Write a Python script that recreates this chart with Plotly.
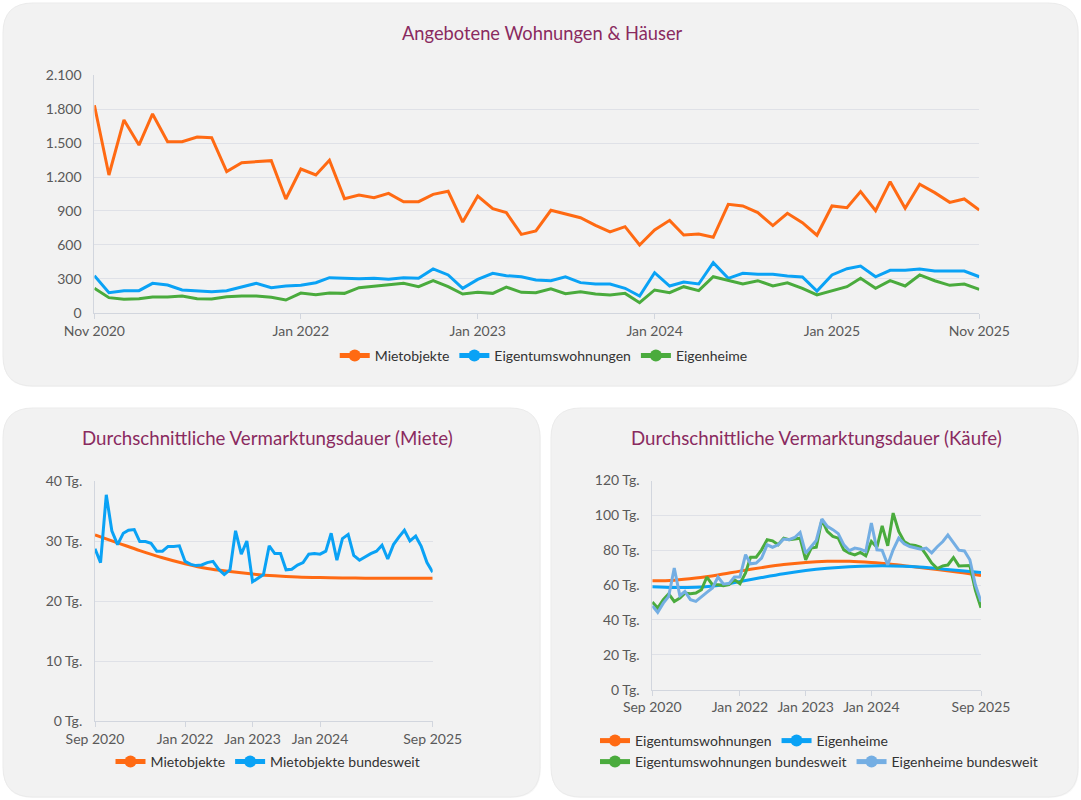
import plotly.graph_objects as go
import pandas as pd

W, H = 1081, 800

# ---------------- data ----------------
top_dates = pd.date_range("2020-11-01", periods=61, freq="MS")
mietobjekte = [1835, 1218, 1705, 1483, 1758, 1513, 1513, 1554, 1548, 1248,
               1327, 1339, 1345, 1006, 1271, 1218, 1348, 1009, 1041, 1018,
               1056, 982, 982, 1047, 1074, 802, 1032, 920, 885, 693,
               723, 906, 873, 840, 773, 714, 761, 599, 732, 817,
               687, 696, 667, 959, 944, 885, 770, 879, 796, 685,
               944, 929, 1071, 902, 1159, 923, 1136, 1062, 976, 1006, 908]
eigentumswohnungen = [327, 177, 195, 195, 260, 245, 201, 195, 186, 195,
                      230, 260, 221, 236, 242, 265, 310, 304, 301, 304,
                      295, 310, 304, 387, 334, 216, 295, 348, 327, 318,
                      289, 283, 318, 266, 254, 254, 216, 148, 354, 236,
                      272, 254, 442, 304, 348, 340, 340, 325, 316, 192,
                      334, 389, 413, 318, 375, 375, 387, 369, 369, 369, 318]
eigenheime = [216, 133, 118, 124, 139, 139, 148, 124, 121, 142,
              148, 148, 136, 112, 174, 159, 174, 171, 221, 236,
              245, 260, 230, 283, 230, 165, 180, 171, 227, 180,
              177, 212, 168, 186, 165, 157, 171, 88, 201, 177,
              230, 195, 318, 283, 254, 283, 236, 265, 216, 157,
              192, 230, 304, 216, 283, 236, 334, 283, 242, 254, 207]
top_tickvals = ["2020-11-01", "2022-01-01", "2023-01-01", "2024-01-01", "2025-01-01", "2025-11-01"]
top_ticktext = ["Nov 2020", "Jan 2022", "Jan 2023", "Jan 2024", "Jan 2025", "Nov 2025"]

bottom_dates = pd.date_range("2020-09-01", periods=61, freq="MS")
miete_bund = [28.7, 26.4, 37.7, 31.7, 29.4, 31.3, 31.8, 31.9, 29.9, 29.9,
              29.6, 28.3, 28.3, 29.1, 29.1, 29.2, 26.6, 26.1, 25.9, 26.0,
              26.4, 26.6, 25.3, 24.4, 25.2, 31.7, 27.8, 30.0, 23.2, 23.9,
              24.4, 29.2, 27.9, 27.9, 25.2, 25.3, 26.0, 26.4, 27.8, 27.9,
              27.8, 28.3, 31.3, 26.8, 30.4, 31.1, 27.6, 26.8, 27.4, 27.9,
              28.3, 29.3, 27.0, 29.4, 30.6, 31.8, 30.0, 30.8, 29.1, 26.4, 24.8]
trend_dates = ["2020-09-01", "2021-01-01", "2021-05-01", "2021-09-01", "2022-01-01",
               "2022-05-01", "2022-09-01", "2023-01-01", "2023-05-01", "2023-09-01",
               "2024-01-01", "2024-05-01", "2024-09-01", "2025-01-01", "2025-05-01",
               "2025-09-01"]
miete_trend = [31.0, 29.7, 28.4, 27.2, 26.2, 25.4, 24.9, 24.5, 24.2, 24.0,
               23.9, 23.85, 23.8, 23.8, 23.8, 23.8]
etw_trend = [62.4, 62.8, 64.0, 65.8, 68.0, 70.0, 71.8, 73.0, 73.6, 73.6,
             72.9, 71.8, 70.4, 68.9, 67.3, 65.5]
eh_trend = [59.0, 58.6, 58.8, 59.8, 62.0, 64.3, 66.5, 68.3, 69.6, 70.5,
            71.0, 71.0, 70.5, 69.5, 68.3, 67.2]
etw_bund = [50.2, 46.8, 51.6, 55.0, 50.6, 52.5, 55.4, 55.0, 55.4, 57.3,
            64.6, 60.2, 60.2, 59.6, 60.2, 63.1, 60.8, 66.9, 76.0, 76.0,
            80.2, 86.0, 85.4, 83.1, 86.9, 86.0, 86.4, 86.9, 74.5, 81.2,
            81.7, 97.5, 90.8, 87.9, 86.9, 80.2, 78.3, 77.3, 78.7, 76.8,
            85.0, 81.7, 94.0, 82.5, 101.3, 90.8, 85.0, 83.1, 82.7, 81.7,
            77.3, 72.6, 69.5, 71.0, 71.5, 75.8, 71.0, 71.2, 71.2, 57.0, 47.0]
eh_bund = [48.1, 44.3, 49.6, 53.5, 69.8, 53.9, 56.3, 51.6, 50.6, 53.5,
           55.8, 58.3, 64.6, 60.6, 60.8, 64.6, 64.6, 77.4, 72.2, 72.6,
           75.5, 83.1, 81.7, 83.1, 86.4, 86.0, 87.3, 90.2, 78.3, 82.1,
           85.6, 97.9, 93.7, 91.8, 89.5, 83.1, 79.7, 81.2, 80.6, 79.3,
           95.6, 80.2, 79.9, 71.6, 80.2, 86.9, 83.7, 82.1, 81.2, 80.6,
           81.2, 78.5, 82.0, 85.0, 88.7, 84.5, 80.0, 79.6, 74.5, 60.0, 50.5]
bottom_tickvals = ["2020-09-01", "2022-01-01", "2023-01-01", "2024-01-01", "2025-09-01"]
bottom_ticktext = ["Sep 2020", "Jan 2022", "Jan 2023", "Jan 2024", "Sep 2025"]

# ---------------- style ----------------
ORANGE = "#ff6a13"
BLUE = "#0aa2f5"
GREEN = "#4aab3d"
LBLUE = "#74aee3"
TITLE_C = "#8a2a5f"
TICK_C = "#595959"
GRID_C = "#dfe1e7"
LINE_C = "#d2d6de"
FONT = "Lato, 'Open Sans', sans-serif"


def px_x(x):
    return x / W


def px_y(y):
    return 1 - y / H


fig = go.Figure()


def add_line(x, y, name, color, ax, legend, spline=False):
    fig.add_trace(go.Scatter(
        x=x, y=y, name=name, mode="lines+markers",
        line=dict(color=color, width=3, shape="spline" if spline else "linear"),
        marker=dict(size=0.01, color=color),
        xaxis="x" + ax, yaxis="y" + ax, legend=legend, hoverinfo="skip"))


add_line(top_dates, mietobjekte, "Mietobjekte", ORANGE, "", "legend")
add_line(top_dates, eigentumswohnungen, "Eigentumswohnungen", BLUE, "", "legend")
add_line(top_dates, eigenheime, "Eigenheime", GREEN, "", "legend")

add_line(trend_dates, miete_trend, "Mietobjekte", ORANGE, "2", "legend2", spline=True)
add_line(bottom_dates, miete_bund, "Mietobjekte bundesweit", BLUE, "2", "legend2")

add_line(trend_dates, etw_trend, "Eigentumswohnungen", ORANGE, "3", "legend3", spline=True)
add_line(trend_dates, eh_trend, "Eigenheime", BLUE, "3", "legend3", spline=True)
add_line(bottom_dates, etw_bund, "Eigentumswohnungen bundesweit", GREEN, "3", "legend4")
add_line(bottom_dates, eh_bund, "Eigenheime bundesweit", LBLUE, "3", "legend4")


def rrect(x0, y0, x1, y1, r):
    X, Y = px_x, px_y
    return (f"M {X(x0+r)},{Y(y0)} L {X(x1-r)},{Y(y0)} Q {X(x1)},{Y(y0)} {X(x1)},{Y(y0+r)} "
            f"L {X(x1)},{Y(y1-r)} Q {X(x1)},{Y(y1)} {X(x1-r)},{Y(y1)} "
            f"L {X(x0+r)},{Y(y1)} Q {X(x0)},{Y(y1)} {X(x0)},{Y(y1-r)} "
            f"L {X(x0)},{Y(y0+r)} Q {X(x0)},{Y(y0)} {X(x0+r)},{Y(y0)} Z")


boxes = [(3, 3, 1078, 386), (3, 408, 540, 797), (551, 408, 1078, 797)]
shapes = []
for (a, b, c, d) in boxes:
    shapes.append(dict(type="path", xref="paper", yref="paper", path=rrect(a, b + 1, c + 1, d + 1, 30),
                       fillcolor="rgba(0,0,0,0.035)", line=dict(width=0), layer="below"))
    shapes.append(dict(type="path", xref="paper", yref="paper", path=rrect(a, b, c, d, 30),
                       fillcolor="#f2f2f2", line=dict(width=1, color="#ebebeb"), layer="below"))


def xaxis_cfg(x0, x1, anchor, rng, tv, tt):
    return dict(domain=[px_x(x0), px_x(x1)], anchor=anchor, type="date", range=rng,
                tickvals=tv, ticktext=tt, showgrid=False, showline=True, linecolor=LINE_C,
                linewidth=1, ticks="outside", ticklen=5, tickcolor=LINE_C, automargin=False,
                tickfont=dict(family=FONT, size=14, color=TICK_C), zeroline=False, fixedrange=True)


def yaxis_cfg(y_top, y_bot, anchor, rng, dtick, suffix="", fmt=None):
    d = dict(domain=[px_y(y_bot), px_y(y_top)], anchor=anchor, range=rng, dtick=dtick, tick0=0,
             showgrid=True, gridcolor=GRID_C, gridwidth=1, showline=True, linecolor=LINE_C,
             linewidth=1, zeroline=False, ticks="", ticklabelstandoff=9, ticksuffix=suffix,
             automargin=False,
             tickfont=dict(family=FONT, size=14, color=TICK_C), fixedrange=True)
    if fmt:
        d["tickformat"] = fmt
    return d


def legend_cfg(x, y, xanchor):
    return dict(orientation="h", x=x, xanchor=xanchor, y=y, yanchor="middle",
                font=dict(family=FONT, size=14, color="#333333"), itemsizing="constant",
                bgcolor="rgba(0,0,0,0)", itemclick=False, itemdoubleclick=False)


fig.update_layout(
    width=W, height=H,
    margin=dict(l=0, r=0, t=0, b=0, pad=0, autoexpand=False),
    paper_bgcolor="white", plot_bgcolor="rgba(0,0,0,0)",
    separators=",.",
    font=dict(family=FONT, color="#333333"),
    shapes=shapes,
    xaxis=xaxis_cfg(94.4, 979.3, "y", ["2020-11-01", "2025-11-01"], top_tickvals, top_ticktext),
    yaxis=yaxis_cfg(75.3, 312.7, "x", [0, 2100], 300, fmt=",d"),
    xaxis2=xaxis_cfg(95, 432.7, "y2", ["2020-09-01", "2025-09-01"], bottom_tickvals, bottom_ticktext),
    yaxis2=yaxis_cfg(481, 721, "x2", [0, 40], 10, suffix=" Tg."),
    xaxis3=xaxis_cfg(652.3, 981, "y3", ["2020-09-01", "2025-09-01"], bottom_tickvals, bottom_ticktext),
    yaxis3=yaxis_cfg(480.5, 689.6, "x3", [0, 120], 20, suffix=" Tg."),
    showlegend=True,
    legend=legend_cfg(0.503, px_y(356), "center"),
    legend2=legend_cfg(px_x(268), px_y(762), "center"),
    legend3=legend_cfg(px_x(595), px_y(741), "left"),
    legend4=legend_cfg(px_x(595), px_y(762), "left"),
    annotations=[
        dict(text="Angebotene Wohnungen & Häuser", x=px_x(542), y=px_y(33), xref="paper", yref="paper",
             showarrow=False, xanchor="center", yanchor="middle",
             font=dict(family=FONT, size=18.3, color=TITLE_C)),
        dict(text="Durchschnittliche Vermarktungsdauer (Miete)", x=px_x(267), y=px_y(438), xref="paper",
             yref="paper", showarrow=False, xanchor="center", yanchor="middle",
             font=dict(family=FONT, size=18.7, color=TITLE_C)),
        dict(text="Durchschnittliche Vermarktungsdauer (Käufe)", x=px_x(816), y=px_y(438), xref="paper",
             yref="paper", showarrow=False, xanchor="center", yanchor="middle",
             font=dict(family=FONT, size=18.7, color=TITLE_C)),
    ],
)

fig.write_html("out.html", config={"displayModeBar": False},
               post_script="document.body.style.margin='0';document.body.style.overflow='hidden';")
